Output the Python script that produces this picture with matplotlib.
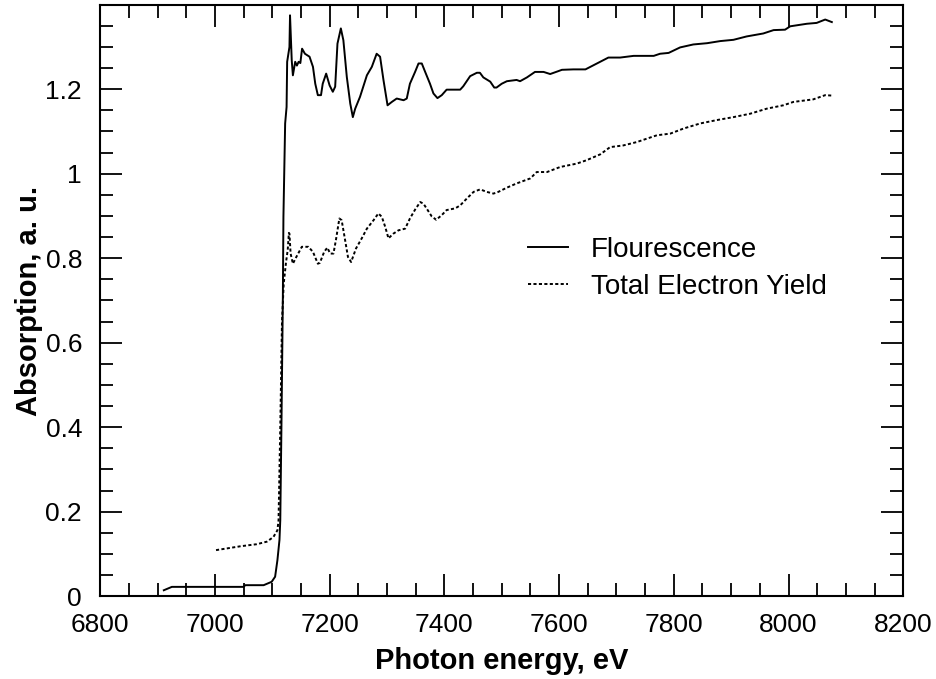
import matplotlib.pyplot as plt
from matplotlib.ticker import MultipleLocator, FormatStrFormatter

# Fluorescence (solid)
fl_energy = [6911, 6925, 7050, 7053, 7085, 7099, 7105, 7109, 7112.6, 7114, 7116, 7118.5,
             7119.5, 7122.5, 7125, 7126, 7130, 7131, 7134, 7136, 7140, 7143, 7146, 7149,
             7152, 7157, 7165, 7171, 7175, 7179.5, 7185, 7188, 7194, 7200, 7205.6, 7209.7,
             7213.7, 7219.6, 7224, 7230, 7236, 7240.5, 7244.6, 7253, 7265, 7273.6, 7282,
             7288, 7294, 7301, 7308.5, 7317, 7329, 7334.5, 7340, 7349, 7355, 7360.7,
             7366.6, 7375, 7381, 7388, 7395.5, 7404, 7427.6, 7433, 7445, 7456.7, 7462,
             7468, 7480, 7487, 7491, 7500, 7509, 7526, 7532, 7544, 7558, 7573, 7584.5,
             7599, 7605, 7625, 7646, 7666, 7686, 7706.5, 7730, 7765, 7776, 7791, 7811,
             7834, 7858, 7881, 7904, 7927, 7956, 7974, 7994, 8003, 8032, 8049, 8064, 8075.5]
fl_value = [0.014, 0.022, 0.022, 0.026, 0.026, 0.034, 0.046, 0.085, 0.133, 0.18, 0.40, 0.708,
            0.898, 1.119, 1.158, 1.265, 1.30, 1.375, 1.268, 1.233, 1.265, 1.256, 1.265, 1.262,
            1.296, 1.284, 1.277, 1.253, 1.213, 1.186, 1.186, 1.213, 1.237, 1.209, 1.194, 1.206,
            1.308, 1.344, 1.316, 1.229, 1.166, 1.134, 1.154, 1.182, 1.233, 1.253, 1.284,
            1.277, 1.221, 1.162, 1.170, 1.178, 1.174, 1.178, 1.213, 1.241, 1.261, 1.261,
            1.241, 1.213, 1.190, 1.179, 1.186, 1.199, 1.199, 1.207, 1.231, 1.239, 1.239,
            1.228, 1.218, 1.204, 1.204, 1.213, 1.219, 1.222, 1.219, 1.228, 1.241, 1.241, 1.236,
            1.243, 1.246, 1.247, 1.247, 1.261, 1.275, 1.275, 1.279, 1.279, 1.284, 1.286, 1.299,
            1.306, 1.309, 1.314, 1.317, 1.325, 1.332, 1.340, 1.341, 1.349, 1.355, 1.357, 1.365, 1.359]

# Total electron yield (dotted)
tey_energy = [7002, 7021, 7044, 7073, 7090.6, 7102, 7109, 7111, 7114, 7117, 7120, 7124, 7127,
              7129, 7130, 7132, 7136, 7142, 7151.6, 7163, 7171, 7179.5, 7183, 7190.5, 7196,
              7201, 7206.7, 7211, 7217, 7221, 7227, 7232, 7237.5, 7246, 7256, 7265, 7276.6,
              7285, 7291, 7297, 7302.6, 7311, 7320, 7331.7, 7340, 7349, 7358, 7363.6, 7369,
              7378, 7385.8, 7395.5, 7404, 7419, 7427.6, 7439, 7451, 7462.5, 7474, 7485.7,
              7494, 7509, 7526, 7550, 7561, 7579, 7602, 7631, 7648, 7672, 7689, 7712, 7735.6,
              7753, 7770.5, 7794, 7817, 7846, 7875, 7904, 7933, 7962, 7991, 8008.6, 8043,
              8064, 8075.5]
tey_value = [0.109, 0.113, 0.118, 0.123, 0.129, 0.140, 0.156, 0.18, 0.40, 0.65, 0.74, 0.79, 0.82,
             0.86, 0.858, 0.811, 0.787, 0.803, 0.827, 0.827, 0.815, 0.787, 0.789, 0.815, 0.825,
             0.811, 0.811, 0.843, 0.894, 0.890, 0.843, 0.803, 0.791, 0.823, 0.847, 0.870, 0.890,
             0.906, 0.898, 0.874, 0.847, 0.858, 0.866, 0.870, 0.894, 0.915, 0.933, 0.929, 0.918,
             0.899, 0.891, 0.902, 0.914, 0.918, 0.925, 0.941, 0.957, 0.963, 0.957, 0.953,
             0.957, 0.967, 0.977, 0.989, 1.004, 1.004, 1.016, 1.024, 1.032, 1.046, 1.063, 1.067,
             1.075, 1.083, 1.091, 1.095, 1.107, 1.119, 1.127, 1.134, 1.142, 1.154, 1.162, 1.170,
             1.176, 1.186, 1.185]

plt.rcParams['font.family'] = ['Liberation Sans', 'DejaVu Sans']

fig = plt.figure(figsize=(9.36, 6.79), dpi=100)
ax = fig.add_axes([0.107, 0.122, 0.858, 0.871])

ax.plot(fl_energy, fl_value, color='black', lw=1.4, label='Flourescence')
ax.plot(tey_energy, tey_value, color='black', lw=1.4, ls=(0, (1.6, 1.2)),
        label='Total Electron Yield')

ax.set_xlim(6800, 8200)
ax.set_ylim(0, 1.4)
ax.xaxis.set_major_locator(MultipleLocator(200))
ax.xaxis.set_minor_locator(MultipleLocator(50))
ax.set_yticks([0, 0.2, 0.4, 0.6, 0.8, 1.0, 1.2])
ax.yaxis.set_minor_locator(MultipleLocator(0.05))
ax.yaxis.set_major_formatter(FormatStrFormatter('%g'))

ax.tick_params(which='both', direction='in', top=True, right=True, width=1.3,
               color='black', labelsize=19)
ax.tick_params(which='major', length=16)
ax.tick_params(which='minor', length=9.5)
ax.tick_params(axis='x', which='major', pad=12)
ax.tick_params(axis='y', which='major', pad=13)
for s in ax.spines.values():
    s.set_linewidth(1.5)

ax.set_xlabel('Photon energy, eV', fontsize=21, fontweight='bold', labelpad=7)
ax.set_ylabel('Absorption, a. u.', fontsize=21, fontweight='bold', labelpad=2)

ax.legend(loc='upper left', bbox_to_anchor=(0.533, 0.607), frameon=False, fontsize=20,
          handlelength=1.45, handletextpad=0.8, labelspacing=0.38, borderpad=0,
          borderaxespad=0)

fig.savefig('out.png', dpi=100)
